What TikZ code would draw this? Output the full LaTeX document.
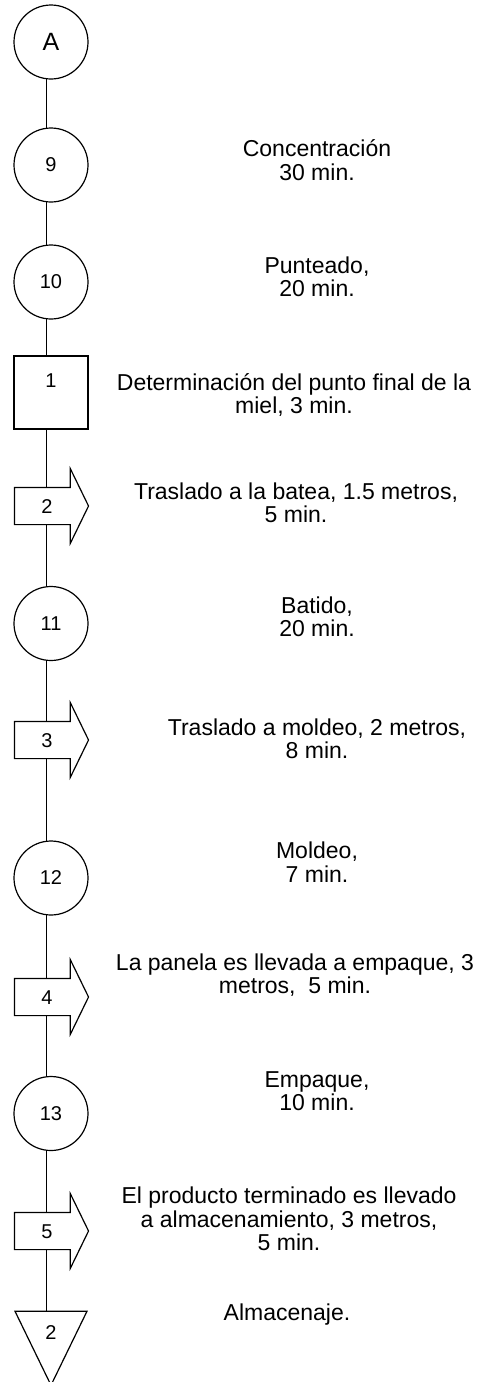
\documentclass[tikz,border=0pt]{standalone}
\usepackage{fontspec}
\setmainfont{Liberation Sans}
\usetikzlibrary{shapes.geometric,shapes.arrows,backgrounds}

\begin{document}
\begin{tikzpicture}[
      x=1pt, y=-1pt,
      line width=1.2pt,
      operacion/.style={circle, draw, fill=white, minimum size=74pt,
        inner sep=0pt, font=\fontsize{20}{20}\selectfont},
      inspeccion/.style={rectangle, draw, fill=white, minimum width=74pt,
        minimum height=73pt, inner sep=0pt, text height=14pt, text depth=24pt,
        font=\fontsize{20}{20}\selectfont},
      transporte/.style={single arrow, draw, fill=white, inner sep=0pt,
        minimum height=74pt, single arrow head extend=19pt,
        single arrow tip angle=128, text height=25pt, text depth=11pt,
        font=\fontsize{20}{20}\selectfont},
      almacen/.style={isosceles triangle, draw, fill=white, inner sep=0pt,
        shape border rotate=-90, isosceles triangle stretches,
        minimum width=72pt, minimum height=74pt,
        font=\fontsize{20}{20}\selectfont},
      paso/.style={align=center, font=\fontsize{23}{23.5}\selectfont}
    ]
      \useasboundingbox (0,0) rectangle (489,1382);

      % symbols of the chart
      \node (A) at (51,42) [operacion, font=\fontsize{25}{25}\selectfont] {A};
      \node (op9) at (51,165) [operacion] {9};
      \node (op10) at (51,282) [operacion] {10};
      \node (ins1) at (51,392.5) [inspeccion] {1};
      \node (tr2) at (47,506) [transporte] {2};
      \node (op11) at (51,623.5) [operacion] {11};
      \node (tr3) at (47,740) [transporte] {3};
      \node (op12) at (51,878) [operacion] {12};
      \node (tr4) at (47,997) [transporte] {4};
      \node (op13) at (51,1113.5) [operacion] {13};
      \node (tr5) at (47,1231) [transporte] {5};
      \node (alm2) at (51,1333) [almacen] {2};

      \begin{scope}[on background layer]
        \draw ([xshift=-5pt]A.center) -- ([xshift=-5pt]alm2.center);
      \end{scope}

      % descriptions
      \node (d9) at (317,160) [paso] {Concentración\\30 min.};
      \node (d10) at (317,277) [paso] {Punteado,\\20 min.};
      \node (d1) at (294,395) [paso] {Determinación del punto final de la\\miel, 3 min.};
      \node (d2) at (296,503) [paso] {Traslado a la batea, 1.5 metros,\\5 min.};
      \node (d11) at (317,617) [paso] {Batido,\\20 min.};
      \node (d3) at (317,739) [paso] {Traslado a moldeo, 2 metros,\\8 min.};
      \node (d12) at (317,862) [paso] {Moldeo,\\7 min.};
      \node (d4) at (295,975) [paso] {La panela es llevada a empaque, 3\\metros,\ \ 5 min.};
      \node (d13) at (317,1091) [paso] {Empaque,\\10 min.};
      \node (d5) at (289,1219) [paso] {El producto terminado es llevado\\a almacenamiento, 3 metros,\\5 min.};
      \node (dalm) at (287,1315) [paso] {Almacenaje.};
    \end{tikzpicture}
\end{document}
